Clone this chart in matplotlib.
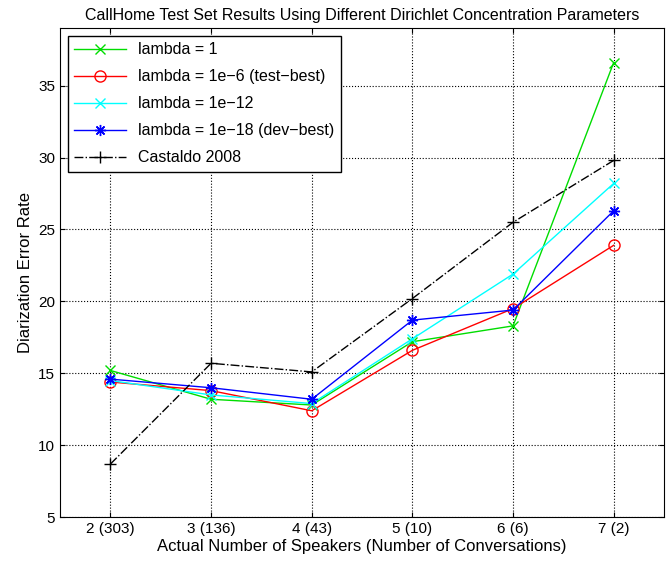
import matplotlib
matplotlib.use("Agg")
import matplotlib.pyplot as plt

xlabels = ["2 (303)", "3 (136)", "4 (43)", "5 (10)", "6 (6)", "7 (2)"]
speakers = [2, 3, 4, 5, 6, 7]
lam1 = [15.2, 13.2, 12.8, 17.2, 18.3, 36.6]
lam6 = [14.4, 13.8, 12.4, 16.6, 19.5, 23.9]
lam12 = [14.5, 13.5, 12.9, 17.4, 21.9, 28.2]
lam18 = [14.6, 14.0, 13.2, 18.7, 19.4, 26.3]
cast = [8.7, 15.7, 15.1, 20.2, 25.5, 29.8]

plt.rcParams['font.family'] = ['Liberation Sans', 'DejaVu Sans']
fig = plt.figure(figsize=(6.68, 5.61), dpi=100)
ax = fig.add_axes([0.09, 0.078, 0.904, 0.872])
ax.plot(speakers, lam1, color='#00dd00', marker='x', ms=7, lw=1, label='lambda = 1')
ax.plot(speakers, lam6, color='#ff0000', marker='o', mfc='none', ms=8, lw=1, label='lambda = 1e\u22126 (test\u2212best)')
ax.plot(speakers, lam12, color='#00ffff', marker='x', ms=7, lw=1, label='lambda = 1e\u221212')
ax.plot(speakers, lam18, color='#0000ff', marker=(8, 2, 0), ms=8, lw=1, label='lambda = 1e\u221218 (dev\u2212best)')
ax.plot(speakers, cast, color='black', marker='+', ms=9, lw=1, ls='-.', label='Castaldo 2008')
ax.set_xlim(1.5, 7.5)
ax.set_ylim(5, 39)
ax.set_xticks(speakers)
ax.set_xticklabels(xlabels)
ax.set_yticks([5, 10, 15, 20, 25, 30, 35])
ax.grid(True, ls=':', color='black', lw=0.8)
ax.tick_params(direction='in', labelsize=11, top=True, right=True)
ax.set_xlabel('Actual Number of Speakers (Number of Conversations)', fontsize=12, labelpad=2)
ax.set_ylabel('Diarization Error Rate', fontsize=12)
ax.set_title('CallHome Test Set Results Using Different Dirichlet Concentration Parameters', fontsize=11.5)
leg = ax.legend(loc='upper left', fontsize=11.5, fancybox=False, edgecolor='black', framealpha=1,
                handlelength=3.2, borderaxespad=0.5, labelspacing=0.75)
fig.savefig('out.png', dpi=100)
